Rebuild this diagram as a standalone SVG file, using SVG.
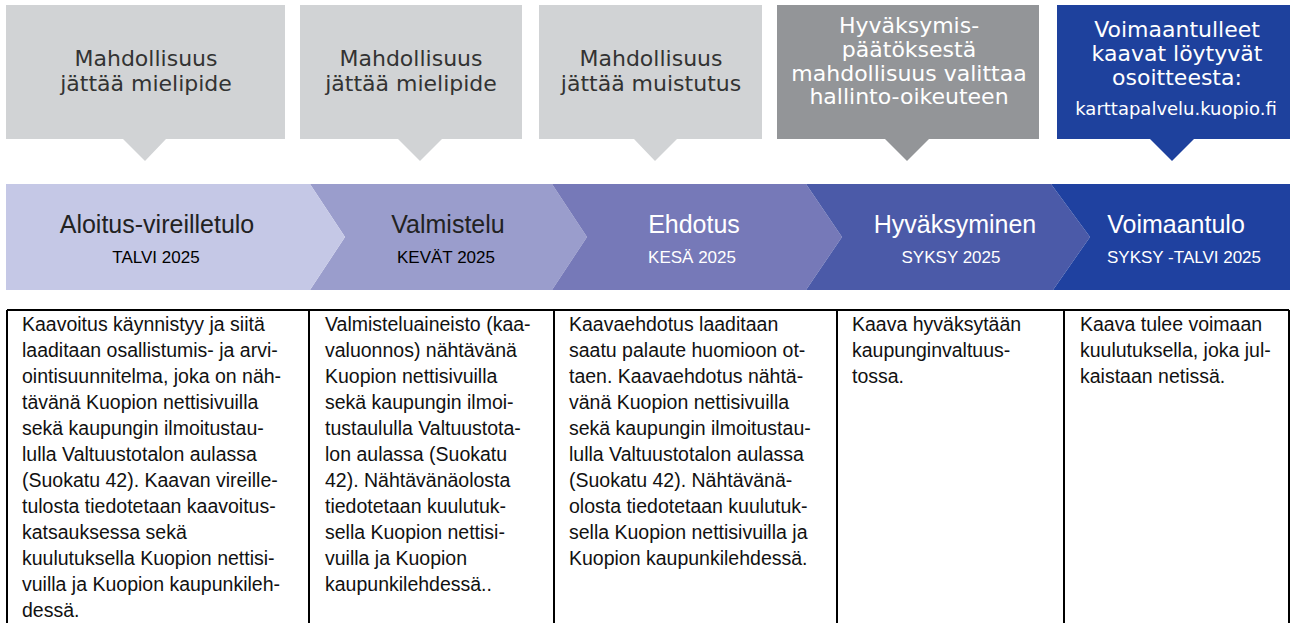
<svg xmlns="http://www.w3.org/2000/svg" width="1290" height="623" viewBox="0 0 1290 623">
<style>
.top{font-family:"DejaVu Sans",Verdana,sans-serif;font-size:22px;text-anchor:middle}
.dk{fill:#333333}
.wt{fill:#ffffff}
.url{font-family:"DejaVu Sans",Verdana,sans-serif;font-size:18px;text-anchor:middle;fill:#ffffff}
.ttl{font-family:"Liberation Sans",Arial,sans-serif;font-size:25px;text-anchor:middle}
.sub{font-family:"Liberation Sans",Arial,sans-serif;font-size:17px;text-anchor:middle}
.body{font-family:"Liberation Sans",Arial,sans-serif;font-size:19.5px;fill:#111111}
.grid{stroke:#000000;stroke-width:2;fill:none}
.lg{fill:#d1d3d5}
</style>
<rect width="1290" height="623" fill="#ffffff"/>

<g id="box1">
<path class="lg" d="M6,5H285V139H166L145,161L123,139H6Z"/>
<text class="top dk"><tspan x="146" y="66">Mahdollisuus</tspan><tspan x="146" y="91">jättää mielipide</tspan></text>
</g>
<g id="box2">
<path class="lg" d="M300,5H522V139H442L420,161L398,139H300Z"/>
<text class="top dk"><tspan x="411" y="66">Mahdollisuus</tspan><tspan x="411" y="91">jättää mielipide</tspan></text>
</g>
<g id="box3">
<path class="lg" d="M539,5H762V139H677L655,161L634,139H539Z"/>
<text class="top dk"><tspan x="651" y="66">Mahdollisuus</tspan><tspan x="651" y="91">jättää muistutus</tspan></text>
</g>
<g id="box4">
<path fill="#939598" d="M777,5H1039V139H929L907,161L885,139H777Z"/>
<text class="top wt"><tspan x="909" y="33">Hyväksymis-</tspan><tspan x="909" y="57">päätöksestä</tspan><tspan x="909" y="80.5">mahdollisuus valittaa</tspan><tspan x="909" y="104">hallinto-oikeuteen</tspan></text>
</g>
<g id="box5">
<path fill="#1e419d" d="M1057,5H1290V139H1194L1172,161L1150,139H1057Z"/>
<text class="top wt"><tspan x="1177" y="37">Voimaantulleet</tspan><tspan x="1177" y="61">kaavat löytyvät</tspan><tspan x="1177" y="85">osoitteesta:</tspan></text>
<text class="url" x="1176" y="115">karttapalvelu.kuopio.fi</text>
</g>

<g id="phase2">
<polygon fill="#9a9dcc" points="310,184 552,184 587,237 552,290 310,290 345,237"/>
<text class="ttl" x="448" y="233" fill="#222222">Valmistelu</text>
<text class="sub" x="446" y="263" fill="#000000">KEVÄT 2025</text>
</g>
<g id="phase1">
<polygon fill="#c5c8e6" points="6,184 310,184 345,237 310,290 6,290"/>
<text class="ttl" x="157" y="233" fill="#222222">Aloitus-vireilletulo</text>
<text class="sub" x="156" y="263" fill="#000000">TALVI 2025</text>
</g>
<g id="phase3">
<polygon fill="#7679b8" points="552,184 806,184 842,237 806,290 552,290 587,237"/>
<text class="ttl" x="694" y="233" fill="#ffffff">Ehdotus</text>
<text class="sub" x="692" y="263" fill="#ffffff">KESÄ 2025</text>
</g>
<g id="phase4">
<polygon fill="#4b5aa8" points="806,184 1051,184 1090,237 1053,290 806,290 842,237"/>
<text class="ttl" x="955" y="233" fill="#ffffff">Hyväksyminen</text>
<text class="sub" x="951" y="263" fill="#ffffff">SYKSY 2025</text>
</g>
<g id="phase5">
<polygon fill="#1f41a0" points="1051,184 1290,184 1290,290 1053,290 1090,237"/>
<text class="ttl" x="1176" y="233" fill="#ffffff">Voimaantulo</text>
<text class="sub" x="1184" y="263" fill="#ffffff">SYKSY -TALVI 2025</text>
</g>

<g id="table">
<path class="grid" d="M7,310H1289M7,310V623M309,310V623M554,310V623M837,310V623M1064,310V623M1289,310V623"/>
</g>

<g id="text1">
<text class="body">
<tspan x="22" y="331">Kaavoitus käynnistyy ja siitä</tspan>
<tspan x="22" y="357">laaditaan osallistumis- ja arvi-</tspan>
<tspan x="22" y="383">ointisuunnitelma, joka on näh-</tspan>
<tspan x="22" y="409">tävänä Kuopion nettisivuilla</tspan>
<tspan x="22" y="435">sekä kaupungin ilmoitustau-</tspan>
<tspan x="22" y="461">lulla Valtuustotalon aulassa</tspan>
<tspan x="22" y="487">(Suokatu 42). Kaavan vireille-</tspan>
<tspan x="22" y="513">tulosta tiedotetaan kaavoitus-</tspan>
<tspan x="22" y="539">katsauksessa sekä</tspan>
<tspan x="22" y="565">kuulutuksella Kuopion nettisi-</tspan>
<tspan x="22" y="591">vuilla ja Kuopion kaupunkileh-</tspan>
<tspan x="22" y="617">dessä.</tspan>
</text>
</g>
<g id="text2">
<text class="body">
<tspan x="325" y="331">Valmisteluaineisto (kaa-</tspan>
<tspan x="325" y="357">valuonnos) nähtävänä</tspan>
<tspan x="325" y="383">Kuopion nettisivuilla</tspan>
<tspan x="325" y="409">sekä kaupungin ilmoi-</tspan>
<tspan x="325" y="435">tustaululla Valtuustota-</tspan>
<tspan x="325" y="461">lon aulassa (Suokatu</tspan>
<tspan x="325" y="487">42). Nähtävänäolosta</tspan>
<tspan x="325" y="513">tiedotetaan kuulutuk-</tspan>
<tspan x="325" y="539">sella Kuopion nettisi-</tspan>
<tspan x="325" y="565">vuilla ja Kuopion</tspan>
<tspan x="325" y="591">kaupunkilehdessä..</tspan>
</text>
</g>
<g id="text3">
<text class="body">
<tspan x="569" y="331">Kaavaehdotus laaditaan</tspan>
<tspan x="569" y="357">saatu palaute huomioon ot-</tspan>
<tspan x="569" y="383">taen. Kaavaehdotus nähtä-</tspan>
<tspan x="569" y="409">vänä Kuopion nettisivuilla</tspan>
<tspan x="569" y="435">sekä kaupungin ilmoitustau-</tspan>
<tspan x="569" y="461">lulla Valtuustotalon aulassa</tspan>
<tspan x="569" y="487">(Suokatu 42). Nähtävänä-</tspan>
<tspan x="569" y="513">olosta tiedotetaan kuulutuk-</tspan>
<tspan x="569" y="539">sella Kuopion nettisivuilla ja</tspan>
<tspan x="569" y="565">Kuopion kaupunkilehdessä.</tspan>
</text>
</g>
<g id="text4">
<text class="body">
<tspan x="852" y="331">Kaava hyväksytään</tspan>
<tspan x="852" y="357">kaupunginvaltuus-</tspan>
<tspan x="852" y="383">tossa.</tspan>
</text>
</g>
<g id="text5">
<text class="body">
<tspan x="1080" y="331">Kaava tulee voimaan</tspan>
<tspan x="1080" y="357">kuulutuksella, joka jul-</tspan>
<tspan x="1080" y="383">kaistaan netissä.</tspan>
</text>
</g>
</svg>
